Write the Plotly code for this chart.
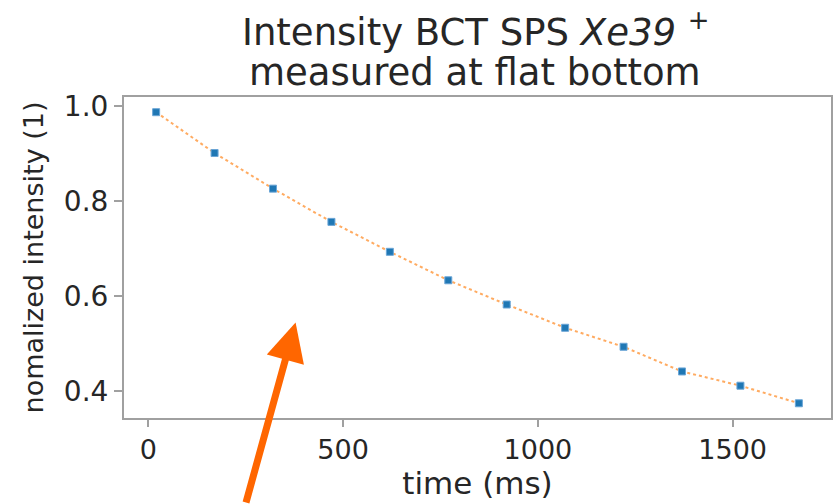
import plotly.graph_objects as go

time_ms = [20, 170, 320, 470, 620, 770, 920, 1070, 1220, 1370, 1520, 1670]
intensity = [0.987, 0.901, 0.826, 0.756, 0.693, 0.633, 0.582, 0.533, 0.493, 0.441, 0.411, 0.374]
x_ticks = [0, 500, 1000, 1500]
y_ticks = [0.4, 0.6, 0.8, 1.0]
y_tick_labels = ["0.4", "0.6", "0.8", "1.0"]
title_lines = ["Intensity BCT SPS <i>Xe39</i> <sup>+</sup>", "measured at flat bottom"]

FONT = "DejaVu Sans"
TXT = "#262626"
AX = "#a0a0a0"

fig = go.Figure()
fig.add_trace(go.Scatter(
    x=time_ms, y=intensity, mode="lines",
    line=dict(color="#ff7f0e", width=2, dash="dot"),
    opacity=0.65, showlegend=False,
))
fig.add_trace(go.Scatter(
    x=time_ms, y=intensity, mode="markers",
    marker=dict(color="#1f77b4", symbol="square", size=7,
                line=dict(color="#6aa5d6", width=1)),
    showlegend=False,
))

fig.add_annotation(
    x=378, y=0.544, xref="x", yref="y",
    ax=-50, ay=195, axref="pixel", ayref="pixel",
    showarrow=True, arrowhead=2, arrowsize=1.1, arrowwidth=7,
    arrowcolor="#ff6600", text="",
)

# two-line title, as separate annotations for matplotlib-like line spacing
for text, shift in zip(title_lines, [68, 25]):
    fig.add_annotation(
        x=0.497, y=1.0, xref="paper", yref="paper", xanchor="center", yanchor="middle",
        yshift=shift, showarrow=False, text=text,
        font=dict(family=FONT, size=37, color=TXT),
    )

fig.update_layout(
    width=833, height=504,
    margin=dict(l=124, r=2, t=97, b=86, autoexpand=False),
    paper_bgcolor="white", plot_bgcolor="white",
    font=dict(family=FONT, color=TXT, size=27),
)
fig.update_xaxes(
    range=[-62.5, 1752.5], tickvals=x_ticks, ticks="outside", ticklen=7,
    tickcolor=AX, tickwidth=2, showline=True, linecolor=AX, linewidth=2,
    mirror=True, showgrid=False, zeroline=False, automargin=False,
    tickfont=dict(size=27, color=TXT),
    title=dict(text="time (ms)", font=dict(size=31, color=TXT), standoff=2),
)
fig.update_yaxes(
    range=[0.343, 1.019], tickvals=y_ticks, ticktext=y_tick_labels,
    ticks="outside", ticklen=8, tickcolor=AX, tickwidth=2,
    showline=True, linecolor=AX, linewidth=2, mirror=True,
    showgrid=False, zeroline=False, automargin=False,
    tickfont=dict(size=28, color=TXT),
    title=dict(text="nomalized intensity (1)", font=dict(size=27, color=TXT), standoff=12),
)

fig.write_html("out.html", config={"displayModeBar": False},
               post_script="document.body.style.margin='0';")
